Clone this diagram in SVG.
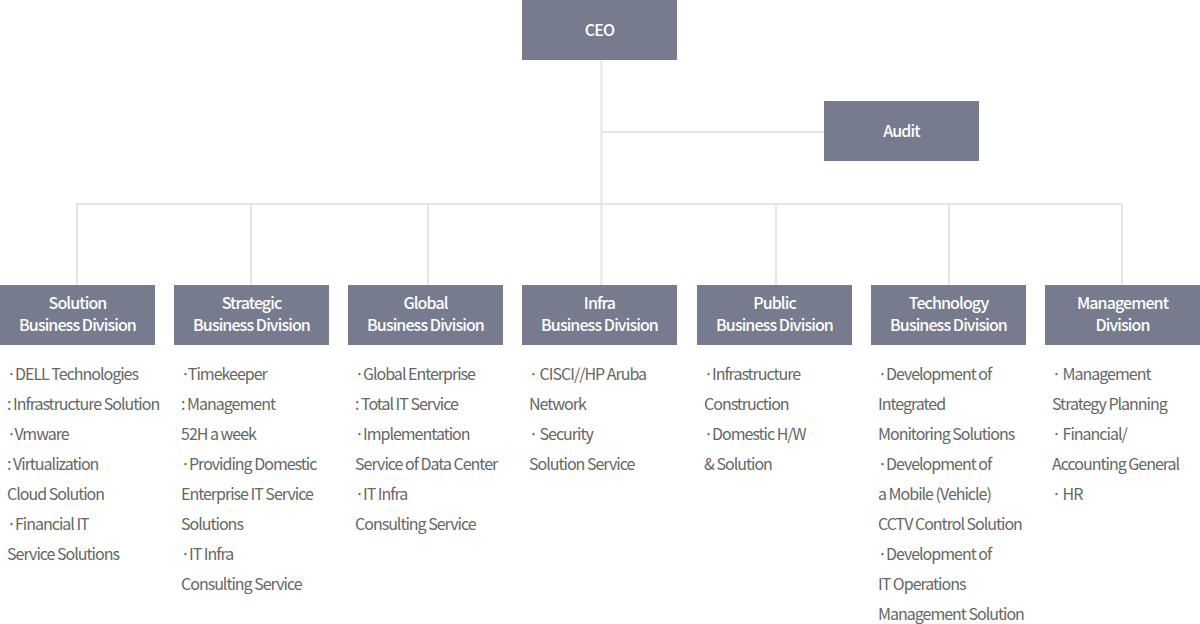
<svg xmlns="http://www.w3.org/2000/svg" width="1200" height="624" viewBox="0 0 1200 624">
<style>
.box{fill:#777b8e}
.t{font-family:"Noto Sans CJK KR","Noto Sans",sans-serif;font-size:16px;font-weight:500;fill:#ffffff;text-anchor:middle;letter-spacing:-0.9px}
.d{font-family:"Noto Sans CJK KR","Noto Sans",sans-serif;font-size:16px;fill:#666666;letter-spacing:-1px}
.ln{stroke:#e5e5e5;stroke-width:2;fill:none}
</style>
<rect width="1200" height="624" fill="#ffffff"/>
<g id="connectors">
<path class="ln" d="M601.5 60V285M601.5 132H824M77 204H1123M77 203V285M251 203V285M428 203V285M776 203V285M949 203V285M1122 203V285"/>
</g>
<g id="ceo"><rect class="box" x="522" y="0" width="155" height="60"/><text class="t" x="599.5" y="36">CEO</text></g>
<g id="audit"><rect class="box" x="824" y="101" width="155" height="60"/><text class="t" x="901.5" y="137">Audit</text></g>
<g id="solution"><rect class="box" x="0" y="285" width="155" height="60"/><text class="t" x="77.5" y="309">Solution</text><text class="t" x="77.5" y="331">Business Division</text>
<text class="d" x="7" y="380">·DELL Technologies</text><text class="d" x="7" y="410">: Infrastructure Solution</text><text class="d" x="7" y="440">·Vmware</text><text class="d" x="7" y="470">: Virtualization</text><text class="d" x="7" y="500">Cloud Solution</text><text class="d" x="7" y="530">·Financial IT</text><text class="d" x="7" y="560">Service Solutions</text></g>
<g id="strategic"><rect class="box" x="174" y="285" width="155" height="60"/><text class="t" x="251.5" y="309">Strategic</text><text class="t" x="251.5" y="331">Business Division</text>
<text class="d" x="181" y="380">·Timekeeper</text><text class="d" x="181" y="410">: Management</text><text class="d" x="181" y="440">52H a week</text><text class="d" x="181" y="470">·Providing Domestic</text><text class="d" x="181" y="500">Enterprise IT Service</text><text class="d" x="181" y="530">Solutions</text><text class="d" x="181" y="560">·IT Infra</text><text class="d" x="181" y="590">Consulting Service</text></g>
<g id="global"><rect class="box" x="348" y="285" width="155" height="60"/><text class="t" x="425.5" y="309">Global</text><text class="t" x="425.5" y="331">Business Division</text>
<text class="d" x="355" y="380">·Global Enterprise</text><text class="d" x="355" y="410">: Total IT Service</text><text class="d" x="355" y="440">·Implementation</text><text class="d" x="355" y="470">Service of Data Center</text><text class="d" x="355" y="500">·IT Infra</text><text class="d" x="355" y="530">Consulting Service</text></g>
<g id="infra"><rect class="box" x="522" y="285" width="155" height="60"/><text class="t" x="599.5" y="309">Infra</text><text class="t" x="599.5" y="331">Business Division</text>
<text class="d" x="529" y="380">· CISCI//HP Aruba</text><text class="d" x="529" y="410">Network</text><text class="d" x="529" y="440">· Security</text><text class="d" x="529" y="470">Solution Service</text></g>
<g id="public"><rect class="box" x="697" y="285" width="155" height="60"/><text class="t" x="774.5" y="309">Public</text><text class="t" x="774.5" y="331">Business Division</text>
<text class="d" x="704" y="380">·Infrastructure</text><text class="d" x="704" y="410">Construction</text><text class="d" x="704" y="440">·Domestic H/W</text><text class="d" x="704" y="470">&amp; Solution</text></g>
<g id="technology"><rect class="box" x="871" y="285" width="155" height="60"/><text class="t" x="948.5" y="309">Technology</text><text class="t" x="948.5" y="331">Business Division</text>
<text class="d" x="878" y="380">·Development of</text><text class="d" x="878" y="410">Integrated</text><text class="d" x="878" y="440">Monitoring Solutions</text><text class="d" x="878" y="470">·Development of</text><text class="d" x="878" y="500">a Mobile (Vehicle)</text><text class="d" x="878" y="530">CCTV Control Solution</text><text class="d" x="878" y="560">·Development of</text><text class="d" x="878" y="590">IT Operations</text><text class="d" x="878" y="620">Management Solution</text></g>
<g id="management"><rect class="box" x="1045" y="285" width="155" height="60"/><text class="t" x="1122.5" y="309">Management</text><text class="t" x="1122.5" y="331">Division</text>
<text class="d" x="1052" y="380">· Management</text><text class="d" x="1052" y="410">Strategy Planning</text><text class="d" x="1052" y="440">· Financial/</text><text class="d" x="1052" y="470">Accounting General</text><text class="d" x="1052" y="500">· HR</text></g>
</svg>
